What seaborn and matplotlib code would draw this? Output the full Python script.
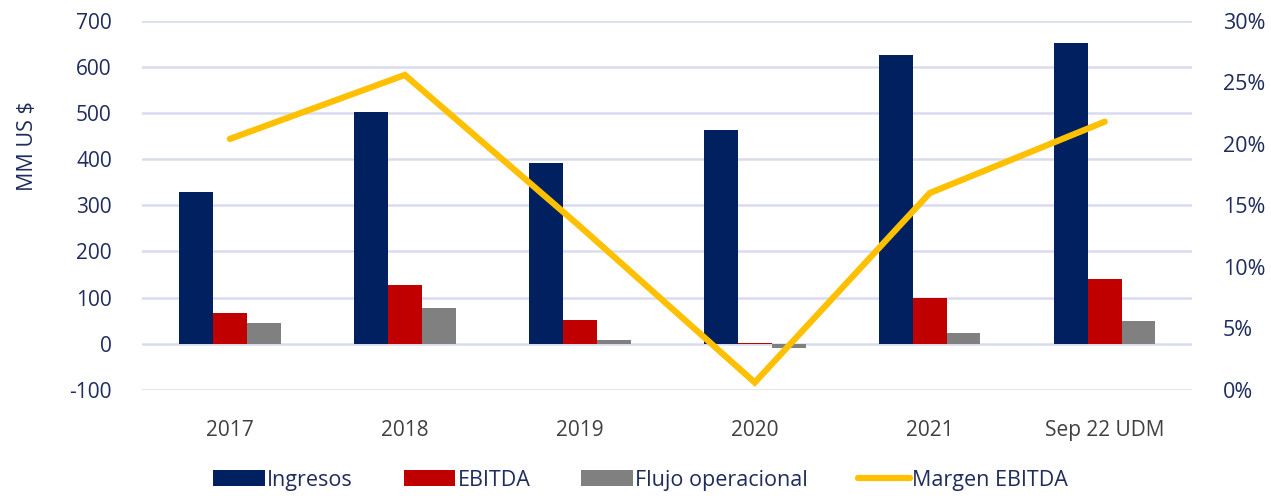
import numpy as np
import pandas as pd
import matplotlib
matplotlib.use("Agg")
import matplotlib.pyplot as plt
from matplotlib.ticker import FuncFormatter
from matplotlib.patches import Patch
from matplotlib.lines import Line2D
import seaborn as sns

periodos = ["2017", "2018", "2019", "2020", "2021", "Sep 22 UDM"]
ingresos = [330, 503, 392, 464, 627, 653]
ebitda = [67, 128, 52, 2, 100, 141]
flujo = [46, 78, 9, -10, 24, 50]
margen = [0.204, 0.256, 0.133, 0.006, 0.160, 0.218]

series = ["Ingresos", "EBITDA", "Flujo operacional"]
colores = ["#002060", "#C00000", "#808080"]
amarillo = "#FFC000"
navy = "#1F2C5C"
gris_txt = "#404040"

df = pd.DataFrame({
    "periodo": periodos * 3,
    "serie": [s for s in series for _ in periodos],
    "valor": ingresos + ebitda + flujo,
})

sns.set_style("white")
plt.rcParams["font.family"] = ["Open Sans", "DejaVu Sans"]
plt.rcParams["axes.unicode_minus"] = False
fs = 15

fig = plt.figure(figsize=(12.71, 4.96), dpi=100)
ax = fig.add_axes([0.112, 0.214, 0.826, 0.744])

sns.barplot(data=df, x="periodo", y="valor", hue="serie", palette=colores,
            saturation=1, width=0.58, gap=0, edgecolor="none", linewidth=0,
            ax=ax, legend=False)

ax.set_ylim(-100, 700)
ax.set_yticks(np.arange(-100, 701, 100))
ax.set_xlim(-0.5, len(periodos) - 0.5)
ax.grid(axis="y", color="#D9DCEE", linewidth=1.8)
ax.set_axisbelow(True)
ax.set_xlabel("")
ax.set_ylabel("MM US $", fontsize=fs + 0.5, color=navy)
ax.yaxis.set_label_coords(-0.099, 0.66)
ax.tick_params(axis="y", length=0, pad=22, labelsize=fs, labelcolor=navy)
ax.tick_params(axis="x", length=0, pad=22, labelsize=fs, labelcolor=gris_txt)
for s in ax.spines.values():
    s.set_visible(False)

ax2 = ax.twinx()
sns.pointplot(x=periodos, y=margen, color=amarillo, marker="", linewidth=4.5,
              ax=ax2)
for ln in ax2.lines:
    ln.set_solid_capstyle("round")
    ln.set_solid_joinstyle("miter")
ax2.set_ylim(0, 0.30)
ax2.set_yticks(np.arange(0, 0.301, 0.05))
ax2.yaxis.set_major_formatter(FuncFormatter(lambda v, p: f"{v * 100:.0f}%"))
ax2.tick_params(axis="y", length=0, pad=22, labelsize=fs + 0.5, labelcolor=navy)
ax2.set_xlim(-0.5, len(periodos) - 0.5)
for s in ax2.spines.values():
    s.set_visible(False)
ax2.grid(False)

handles = [Patch(facecolor=c, edgecolor="none") for c in colores]
handles.append(Line2D([0], [0], color=amarillo, lw=4.5, solid_capstyle="round"))
fig.legend(handles, series + ["Margen EBITDA"], loc="center", bbox_to_anchor=(0.504, 0.032),
           ncol=4, frameon=False, fontsize=fs + 0.5, handlelength=2.4, handleheight=0.8,
           handletextpad=0.1, columnspacing=2.35, labelcolor=navy)

fig.savefig("out.png", dpi=100)
